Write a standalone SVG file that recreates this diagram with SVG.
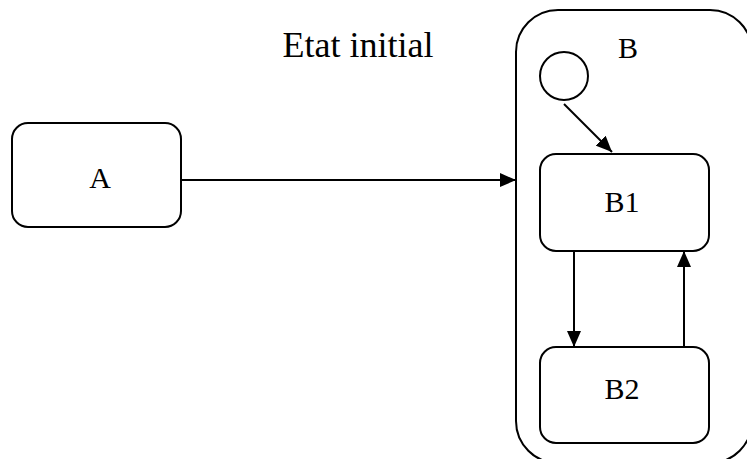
<svg xmlns="http://www.w3.org/2000/svg" width="747" height="459" viewBox="0 0 747 459">
<style>
.box{fill:#fff;stroke:#000;stroke-width:2}
.lbl{font-family:"Liberation Serif","Times New Roman",serif;font-size:30px;fill:#000;text-anchor:middle}
.title{font-family:"Liberation Serif","Times New Roman",serif;font-size:36px;fill:#000;text-anchor:middle}
.conn{stroke:#000;stroke-width:2;fill:none;marker-end:url(#ah)}
</style>
<defs>
<marker id="ah" markerUnits="userSpaceOnUse" markerWidth="16" markerHeight="14" viewBox="0 0 16 14" refX="16" refY="7" orient="auto">
<path d="M0,0 L16,7 L0,14 Z" fill="#000"/>
</marker>
</defs>
<rect width="747" height="459" fill="#fff"/>
<text class="title" x="358" y="57">Etat initial</text>
<g id="B">
<rect class="box" x="516" y="10" width="236" height="453" rx="42"/>
<text class="lbl" x="628" y="58">B</text>
</g>
<g id="init">
<circle class="box" cx="564" cy="76" r="24"/>
</g>
<g id="A">
<rect class="box" x="12" y="123" width="169" height="104" rx="16"/>
<text class="lbl" x="100" y="188">A</text>
</g>
<g id="B1">
<rect class="box" x="540" y="154" width="169" height="97" rx="16"/>
<text class="lbl" x="622" y="212">B1</text>
</g>
<g id="B2">
<rect class="box" x="540" y="347" width="169" height="96" rx="16"/>
<text class="lbl" x="622" y="399">B2</text>
</g>
<g id="connectors">
<line class="conn" x1="181" y1="180" x2="516" y2="180"/>
<line class="conn" x1="564" y1="104" x2="612" y2="152"/>
<line class="conn" x1="574" y1="251" x2="574" y2="347"/>
<line class="conn" x1="684" y1="347" x2="684" y2="251"/>
</g>
</svg>
